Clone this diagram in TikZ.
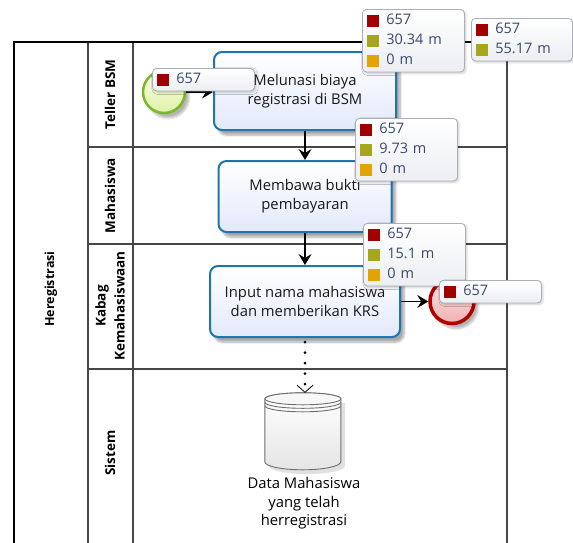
\documentclass[tikz,border=0pt]{standalone}
\usepackage{fontspec}
\setmainfont{Open Sans}
\usetikzlibrary{arrows.meta,shadows.blur}

\definecolor{taskedge}{RGB}{30,118,172}
\definecolor{taskfill}{RGB}{226,233,250}
\definecolor{annotext}{RGB}{58,72,108}
\definecolor{annoedge}{RGB}{172,176,182}
\definecolor{annofill}{RGB}{236,238,242}
\definecolor{cntred}{RGB}{160,0,0}
\definecolor{durolive}{RGB}{166,166,30}
\definecolor{waitorange}{RGB}{226,164,0}
\definecolor{laneline}{RGB}{70,70,70}
\definecolor{startedge}{RGB}{122,184,40}
\definecolor{starttop}{RGB}{250,253,232}
\definecolor{startbot}{RGB}{222,241,170}
\definecolor{endedge}{RGB}{176,0,0}
\definecolor{endtop}{RGB}{252,232,232}
\definecolor{endbot}{RGB}{240,176,176}
\definecolor{storeedge}{RGB}{110,110,110}

% coloured marker in front of a statistic
\newcommand\statmark[1]{\raisebox{-2pt}{\textcolor{#1}{\rule{12pt}{12pt}}}\hspace{7pt}}

\tikzset{
  pool/.style={line width=1.4pt, black},
  lane/.style={line width=1.1pt, laneline},
  lanelabel/.style={rotate=90, font=\fontsize{13.5}{19}\selectfont\bfseries, align=center},
  task/.style={draw=taskedge, line width=2pt, rounded corners=8pt,
    top color=white, bottom color=taskfill, text=black!90,
    font=\fontsize{14.8}{19}\selectfont, align=center,
    blur shadow={shadow xshift=4pt, shadow yshift=-5pt, shadow blur steps=8, shadow opacity=35}},
  anno/.style={draw=annoedge, line width=0.8pt, rounded corners=4pt,
    top color=white, bottom color=annofill, text=annotext,
    font=\fontsize{14.5}{20}\selectfont, align=left, anchor=north west,
    inner xsep=5pt, inner ysep=5pt, text width=92pt,
    blur shadow={shadow xshift=1.5pt, shadow yshift=-1.5pt, shadow blur steps=4, shadow opacity=20}},
  flow/.style={line width=1.2pt, black, -{Stealth[length=11pt,width=13pt,inset=4pt]}},
  assoc/.style={line width=3pt, line cap=round, dash pattern=on 0pt off 10.5pt, black,
    -{Straight Barb[length=7pt,width=16pt,line width=0.8pt,line cap=butt]}},
}

\begin{document}
\begin{tikzpicture}[x=1pt, y=-1pt]
\useasboundingbox (0,0) rectangle (573,542);

% pool and lanes
\begin{scope}
  \clip (0,0) rectangle (573,542);
  \draw[lane] (88,147) -- (507,147);
  \draw[lane] (88,244) -- (507,244);
  \draw[lane] (88,369) -- (507,369);
  \draw[lane] (88,42) -- (88,560);
  \draw[lane] (133,42) -- (133,560);
  \draw[lane] (507,42) -- (507,560);
  \draw[pool] (14,560) -- (14,42) -- (507,42);
\end{scope}

\node[lanelabel, font=\fontsize{12.5}{19}\selectfont\bfseries] (poolname) at (51,289) {Heregistrasi};
\node[lanelabel] (laneteller) at (110,94.5) {Teller BSM};
\node[lanelabel] (lanemhs) at (110,195.5) {Mahasiswa};
\node[lanelabel] (lanekabag) at (110,306) {Kabag\\Kemahasiswaan};
\node[lanelabel] (lanesistem) at (110,453) {Sistem};

% events
\node[circle, draw=startedge, line width=2.5pt, minimum size=42pt, inner sep=0pt,
  top color=starttop, bottom color=startbot,
  blur shadow={shadow xshift=4pt, shadow yshift=-5pt, shadow blur steps=8, shadow opacity=30}]
  (startev) at (164,92) {};
\node[circle, draw=endedge, line width=3.5pt, minimum size=44pt, inner sep=0pt,
  top color=endtop, bottom color=endbot,
  blur shadow={shadow xshift=4pt, shadow yshift=-5pt, shadow blur steps=8, shadow opacity=30}]
  (endev) at (452,301.5) {};

% tasks
\node[task, minimum width=182pt, minimum height=78pt] (t1) at (305,91) {Melunasi biaya\\registrasi di BSM};
\node[task, minimum width=173pt, minimum height=71pt] (t2) at (305,196.5) {Membawa bukti\\pembayaran};
\node[task, minimum width=190pt, minimum height=71pt] (t3) at (305,301.5) {Input nama mahasiswa\\dan memberikan KRS};

% data store
\node[minimum width=76pt, minimum height=77pt, inner sep=0pt] (store) at (303,431.5) {};
\fill[black, opacity=0.12] (269,403) -- (269,466) arc[start angle=180, end angle=0, x radius=38, y radius=8] -- (345,403) -- cycle;
\draw[storeedge, line width=0.9pt, top color=white, bottom color=black!10]
  (store.north west) ++(0,6) -- ++(0,63)
  arc[start angle=180, end angle=0, x radius=38, y radius=8]
  -- ++(0,-63) arc[start angle=0, end angle=-180, x radius=38, y radius=6];
\draw[storeedge, line width=0.9pt, fill=white!97!black] (store.north) ++(0,6) ellipse[x radius=38, y radius=6];
\draw[storeedge, line width=0.9pt] (store.north west) ++(0,9.5) arc[start angle=180, end angle=0, x radius=38, y radius=6];
\draw[storeedge, line width=0.9pt] (store.north west) ++(0,13) arc[start angle=180, end angle=0, x radius=38, y radius=6];
\node[font=\fontsize{14.8}{18.5}\selectfont, align=center, anchor=north] (storelabel) at (304,474) {Data Mahasiswa\\yang telah\\herregistrasi};

% connectors
\draw[flow] (startev.east) -- (startev.east -| t1.west);
\draw[flow] (t1.south) -- (t2.north);
\draw[flow] (t2.south) -- (t3.north);
\draw[flow] (t3.east) -- (endev.west);
\draw[assoc] (t3.south) ++(0,4) -- (t3.south |- store.north);

% simulation statistics
\node[anno] (statA) at (362,9) {\statmark{cntred}657\\\statmark{durolive}30.34 m\\\statmark{waitorange}0 m};
\node[anno, text width=91pt] (statB) at (471,18) {\statmark{cntred}657\\\statmark{durolive}55.17 m};
\node[anno] (statC) at (355,118) {\statmark{cntred}657\\\statmark{durolive}9.73 m\\\statmark{waitorange}0 m};
\node[anno] (statD) at (363,223) {\statmark{cntred}657\\\statmark{durolive}15.1 m\\\statmark{waitorange}0 m};
\node[anno] (statE) at (439,280) {\statmark{cntred}657};
\node[anno] (statF) at (152,68) {\statmark{cntred}657};
\end{tikzpicture}
\end{document}
